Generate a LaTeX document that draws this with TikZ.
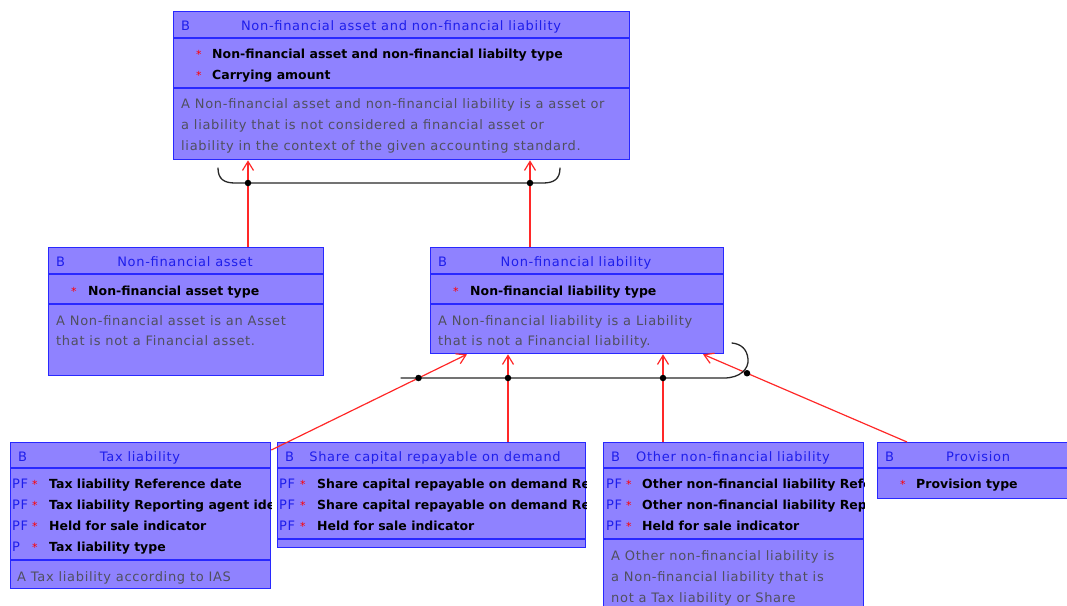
\documentclass[tikz,border=0pt]{standalone}
\usepackage{fontspec}
\usetikzlibrary{arrows.meta}
\newfontfamily\umlreg[LetterSpace=5.3]{DejaVu Sans}
\newfontfamily\umlbf{DejaVu Sans}
\definecolor{boxfill}{RGB}{143,130,255}
\definecolor{boxline}{RGB}{40,40,255}
\definecolor{headtext}{RGB}{30,30,235}
\definecolor{desctext}{RGB}{80,80,95}
\definecolor{genline}{RGB}{255,40,40}
\definecolor{brkline}{RGB}{40,40,40}
\newcommand{\umlsize}{\fontsize{13}{15}\selectfont}
\newcommand{\umlbfsize}{\fontsize{12.5}{15}\selectfont}
\tikzset{
  cls/.style={draw=boxline, fill=boxfill, line width=1.3pt, inner sep=0pt, anchor=north west},
  sepline/.style={draw=boxline, line width=1.3pt},
  hd/.style={font=\umlreg\umlsize, text=headtext, inner sep=0pt, anchor=base},
  bl/.style={hd, anchor=base west},
  pk/.style={hd, anchor=base west},
  attr/.style={font=\umlbf\bfseries\umlbfsize, text=black, inner sep=0pt, anchor=base west},
  reqmark/.style={font=\umlreg\fontsize{11}{13}\selectfont, text=red, inner sep=0pt, anchor=base west},
  ds/.style={font=\umlreg\umlsize, text=desctext, inner sep=0pt, anchor=base west},
  gen/.style={draw=genline, line width=1.2pt,
    -{Straight Barb[length=9pt,width=11pt,line width=1.2pt]}},
  brk/.style={draw=brkline, line width=1.3pt, line cap=round},
  dot/.style={circle, fill=black, inner sep=0pt, minimum size=6.5pt}
}
\begin{document}
\begin{tikzpicture}[x=1pt,y=-1pt]
\useasboundingbox (0,0) rectangle (1067,605);
\clip (0,0) rectangle (1067,605);

% ---------- class boxes ----------
\node[cls, minimum width=456pt, minimum height=148pt] (top)   at (173,11)  {};
\node[cls, minimum width=275pt, minimum height=128pt] (nfa)   at (48,247)  {};
\node[cls, minimum width=293pt, minimum height=106pt] (nfl)   at (430,247) {};
\node[cls, minimum width=260pt, minimum height=146pt] (tax)   at (10,442)  {};
\node[cls, minimum width=308pt, minimum height=105pt] (share) at (277,442) {};
\node[cls, minimum width=260pt, minimum height=200pt] (other) at (603,442) {};
\node[cls, minimum width=215pt, minimum height=56pt]  (prov)  at (877,442) {};

% compartment separators
\draw[sepline] (top.west |- 0,38)  -- (top.east |- 0,38);
\draw[sepline] (top.west |- 0,88)  -- (top.east |- 0,88);
\draw[sepline] (nfa.west |- 0,274) -- (nfa.east |- 0,274);
\draw[sepline] (nfa.west |- 0,304) -- (nfa.east |- 0,304);
\draw[sepline] (nfl.west |- 0,274) -- (nfl.east |- 0,274);
\draw[sepline] (nfl.west |- 0,304) -- (nfl.east |- 0,304);
\draw[sepline] (tax.west |- 0,468) -- (tax.east |- 0,468);
\draw[sepline] (tax.west |- 0,560) -- (tax.east |- 0,560);
\draw[sepline] (share.west |- 0,468) -- (share.east |- 0,468);
\draw[sepline] (share.west |- 0,539) -- (share.east |- 0,539);
\draw[sepline] (other.west |- 0,468) -- (other.east |- 0,468);
\draw[sepline] (other.west |- 0,539) -- (other.east |- 0,539);
\draw[sepline] (prov.west |- 0,468) -- (prov.east |- 0,468);

% ---------- Non-financial asset and non-financial liability ----------
\node[bl] (topB) at (181,30) {B};
\node[hd] (topH) at (401,30) {Non-financial asset and non-financial liability};
\node[reqmark] (topS1) at (196,58) {*};
\node[attr]   (topA1) at (212,58) {Non-financial asset and non-financial liabilty type};
\node[reqmark] (topS2) at (196,79) {*};
\node[attr]   (topA2) at (212,79) {Carrying amount};
\node[ds] (topD1) at (181,108) {A Non-financial asset and non-financial liability is a asset or};
\node[ds] (topD2) at (181,129) {a liability that is not considered a financial asset or};
\node[ds] (topD3) at (181,150) {liability in the context of the given accounting standard.};

% ---------- Non-financial asset ----------
\node[bl] (nfaB) at (56,266) {B};
\node[hd] (nfaH) at (185,266) {Non-financial asset};
\node[reqmark] (nfaS) at (71,295) {*};
\node[attr]   (nfaA) at (88,295) {Non-financial asset type};
\node[ds] (nfaD1) at (56,325) {A Non-financial asset is an Asset};
\node[ds] (nfaD2) at (56,345) {that is not a Financial asset.};

% ---------- Non-financial liability ----------
\node[bl] (nflB) at (438,266) {B};
\node[hd] (nflH) at (576,266) {Non-financial liability};
\node[reqmark] (nflS) at (453,295) {*};
\node[attr]   (nflA) at (470,295) {Non-financial liability type};
\node[ds] (nflD1) at (438,325) {A Non-financial liability is a Liability};
\node[ds] (nflD2) at (438,345) {that is not a Financial liability.};

% ---------- Tax liability ----------
\begin{scope}
\clip (tax.south west) rectangle (tax.north east);
\node[bl] (taxB) at (18,461) {B};
\node[hd] (taxH) at (140,461) {Tax liability};
\node[pk] (taxK1) at (12,488) {PF};
\node[reqmark] (taxS1) at (32,488) {*};
\node[attr] (taxA1) at (49,488) {Tax liability Reference date};
\node[pk] (taxK2) at (12,509) {PF};
\node[reqmark] (taxS2) at (32,509) {*};
\node[attr] (taxA2) at (49,509) {Tax liability Reporting agent identifier};
\node[pk] (taxK3) at (12,530) {PF};
\node[reqmark] (taxS3) at (32,530) {*};
\node[attr] (taxA3) at (49,530) {Held for sale indicator};
\node[pk] (taxK4) at (12,551) {P};
\node[reqmark] (taxS4) at (32,551) {*};
\node[attr] (taxA4) at (49,551) {Tax liability type};
\node[ds] (taxD1) at (17,581) {A Tax liability according to IAS};
\end{scope}

% ---------- Share capital repayable on demand ----------
\begin{scope}
\clip (share.south west) rectangle (share.north east);
\node[bl] (shB) at (285,461) {B};
\node[hd] (shH) at (435,461) {Share capital repayable on demand};
\node[pk] (shK1) at (279,488) {PF};
\node[reqmark] (shS1) at (300,488) {*};
\node[attr] (shA1) at (317,488) {Share capital repayable on demand Reference date};
\node[pk] (shK2) at (279,509) {PF};
\node[reqmark] (shS2) at (300,509) {*};
\node[attr] (shA2) at (317,509) {Share capital repayable on demand Reporting agent identifier};
\node[pk] (shK3) at (279,530) {PF};
\node[reqmark] (shS3) at (300,530) {*};
\node[attr] (shA3) at (317,530) {Held for sale indicator};
\end{scope}

% ---------- Other non-financial liability ----------
\begin{scope}
\clip (other.south west) rectangle (other.north east);
\node[bl] (otB) at (611,461) {B};
\node[hd] (otH) at (733,461) {Other non-financial liability};
\node[pk] (otK1) at (606,488) {PF};
\node[reqmark] (otS1) at (626,488) {*};
\node[attr] (otA1) at (642,488) {Other non-financial liability Reference date};
\node[pk] (otK2) at (606,509) {PF};
\node[reqmark] (otS2) at (626,509) {*};
\node[attr] (otA2) at (642,509) {Other non-financial liability Reporting agent identifier};
\node[pk] (otK3) at (606,530) {PF};
\node[reqmark] (otS3) at (626,530) {*};
\node[attr] (otA3) at (642,530) {Held for sale indicator};
\node[ds] (otD1) at (611,560) {A Other non-financial liability is};
\node[ds] (otD2) at (611,581) {a Non-financial liability that is};
\node[ds] (otD3) at (611,602) {not a Tax liability or Share};
\end{scope}

% ---------- Provision ----------
\node[bl] (prB) at (885,461) {B};
\node[hd] (prH) at (978,461) {Provision};
\node[reqmark] (prS) at (900,488) {*};
\node[attr]   (prA) at (916,488) {Provision type};

% ---------- generalisation connectors ----------
\coordinate (taxS)  at (tax.east |- 0,450);
\coordinate (taxE)  at (nfl.south -| 467,0);
\coordinate (provS) at (prov.north -| 907,0);
\coordinate (provE) at (nfl.south -| 703,0);

\draw[gen] (nfa.north -| 248,0) -- (top.south -| 248,0);
\draw[gen] (nfl.north -| 530,0) -- (top.south -| 530,0);
\draw[gen] (taxS) -- (taxE);
\draw[gen] (share.north -| 508,0) -- (nfl.south -| 508,0);
\draw[gen] (other.north -| 663,0) -- (nfl.south -| 663,0);
\draw[gen] (provS) -- (provE);

% ---------- generalisation set brackets ----------
\coordinate (tbL) at (218,168);
\coordinate (tbR) at (560,168);
\draw[brk] (tbL) .. controls (218,179) and (224,183) .. (235,183) -- (543,183)
  .. controls (554,183) and (560,179) .. (tbR);
\node[dot] (tdot1) at (248,183) {};
\node[dot] (tdot2) at (530,183) {};

\coordinate (bbL) at (401,378);
\coordinate (bbE) at (732,343);
\draw[brk] (bbL) -- (724,378) .. controls (740,378) and (749,369) .. (748,359)
  .. controls (747,349) and (741,344) .. (bbE);
\node[dot] (bdot1) at (intersection of taxS--taxE and 0,378--10,378) {};
\node[dot] (bdot2) at (508,378) {};
\node[dot] (bdot3) at (663,378) {};
\node[dot] (bdot4) at (intersection of provS--provE and 747,0--747,10) {};
\end{tikzpicture}
\end{document}
